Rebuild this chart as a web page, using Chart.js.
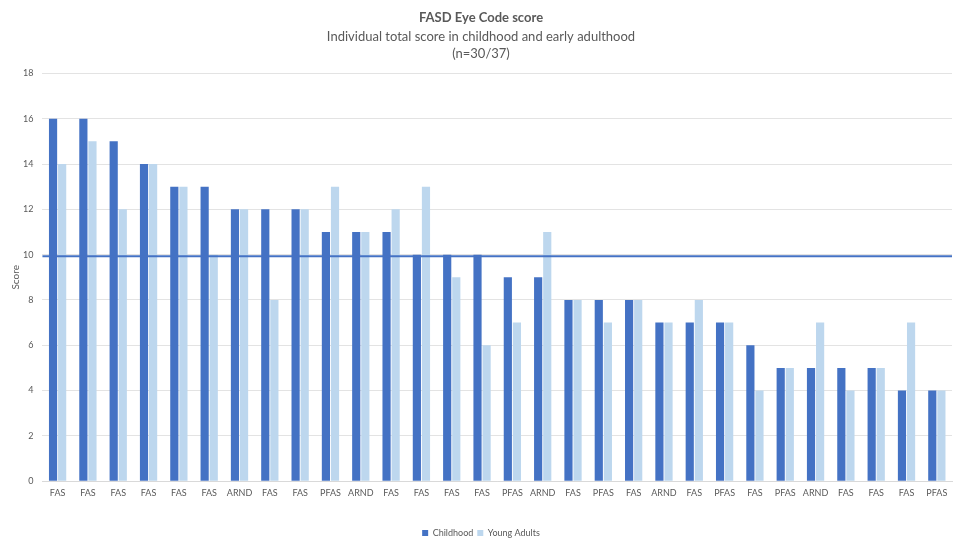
<!DOCTYPE html>
<html>
<head>
  <meta charset="UTF-8">
  <title>FASD Eye Code score</title>
  <script src="https://cdn.jsdelivr.net/npm/chart.js"></script>
  <style>
    body { margin: 0; background: #fff; }
    #wrap { width: 954px; height: 538px; }
  </style>
</head>
<body>
  <div id="wrap"><canvas id="eyeChart" width="954" height="538"></canvas></div>

  <script>
    const diagnoses = ['FAS','FAS','FAS','FAS','FAS','FAS','ARND','FAS','FAS','PFAS',
                       'ARND','FAS','FAS','FAS','FAS','PFAS','ARND','FAS','PFAS','FAS',
                       'ARND','FAS','PFAS','FAS','PFAS','ARND','FAS','FAS','FAS','PFAS'];
    const childhood = [16,16,15,14,13,13,12,12,12,11,11,11,10,10,10,9,9,8,8,8,7,7,7,6,5,5,5,5,4,4];
    const youngAdults = [14,15,12,14,13,10,12,8,12,13,11,12,13,9,6,7,11,8,7,8,7,8,7,4,5,7,4,5,7,4];
    const cutoff = 9.93;
    const yTicks = [0, 2, 4, 6, 8, 10, 12, 14, 16, 18];

    const grey = '#595959';
    const font = 'Lato, "Open Sans", sans-serif';

    // horizontal reference line across the whole plot area
    const cutoffLine = {
      id: 'cutoffLine',
      afterDatasetsDraw(chart) {
        const y = chart.scales.y.getPixelForValue(cutoff);
        const a = chart.chartArea;
        const ctx = chart.ctx;
        ctx.save();
        ctx.strokeStyle = '#4472C4';
        ctx.lineWidth = 2;
        ctx.beginPath();
        ctx.moveTo(a.left, y);
        ctx.lineTo(a.right, y);
        ctx.stroke();
        ctx.restore();
      }
    };

    // keep the legend strip thin so it sits at the very bottom
    const thinLegend = {
      id: 'thinLegend',
      beforeInit(chart) {
        const fit = chart.legend.fit;
        chart.legend.fit = function () {
          fit.bind(chart.legend)();
          this.height = 13.5;
        };
      }
    };

    new Chart(document.getElementById('eyeChart'), {
      type: 'bar',
      data: {
        labels: diagnoses,
        datasets: [
          { label: 'Childhood', data: childhood, backgroundColor: '#4472C4',
            barPercentage: 0.9, categoryPercentage: 0.6 },
          { label: 'Young Adults', data: youngAdults, backgroundColor: '#BDD7EE',
            barPercentage: 0.9, categoryPercentage: 0.6 }
        ]
      },
      options: {
        responsive: false,
        animation: false,
        devicePixelRatio: 1,
        layout: { padding: { left: 10, right: 2, top: 4, bottom: 0 } },
        plugins: {
          title: {
            display: true,
            text: 'FASD Eye Code score',
            color: grey,
            font: { family: font, size: 13, weight: 'bold' },
            padding: { top: 6, bottom: 3 }
          },
          subtitle: {
            display: true,
            text: ['Individual total score in childhood and early adulthood', '(n=30/37)'],
            color: grey,
            font: { family: font, size: 13, lineHeight: 1.3 },
            padding: { bottom: 11 }
          },
          legend: {
            position: 'bottom',
            labels: {
              color: grey,
              font: { family: font, size: 9 },
              boxWidth: 6,
              boxHeight: 6,
              padding: 4
            }
          },
          tooltip: { enabled: false }
        },
        scales: {
          x: {
            grid: { display: false, drawTicks: false },
            border: { display: true, color: '#d9d9d9' },
            ticks: { color: grey, font: { family: font, size: 9 }, maxRotation: 0, autoSkip: false, padding: 6 },
            afterFit(scale) { scale.height += 20.5; }
          },
          y: {
            min: 0,
            max: 18,
            afterBuildTicks(scale) { scale.ticks = yTicks.map(v => ({ value: v })); },
            afterFit(scale) { scale.width -= 10; },
            grid: { color: '#e3e3e3', drawTicks: false },
            border: { display: false },
            ticks: { color: grey, font: { family: font, size: 9 }, padding: 9 },
            title: { display: true, text: 'Score', color: grey, font: { family: font, size: 10 },
                     padding: { top: 0, bottom: 2 } }
          }
        }
      },
      plugins: [cutoffLine, thinLegend]
    });
  </script>
</body>
</html>
